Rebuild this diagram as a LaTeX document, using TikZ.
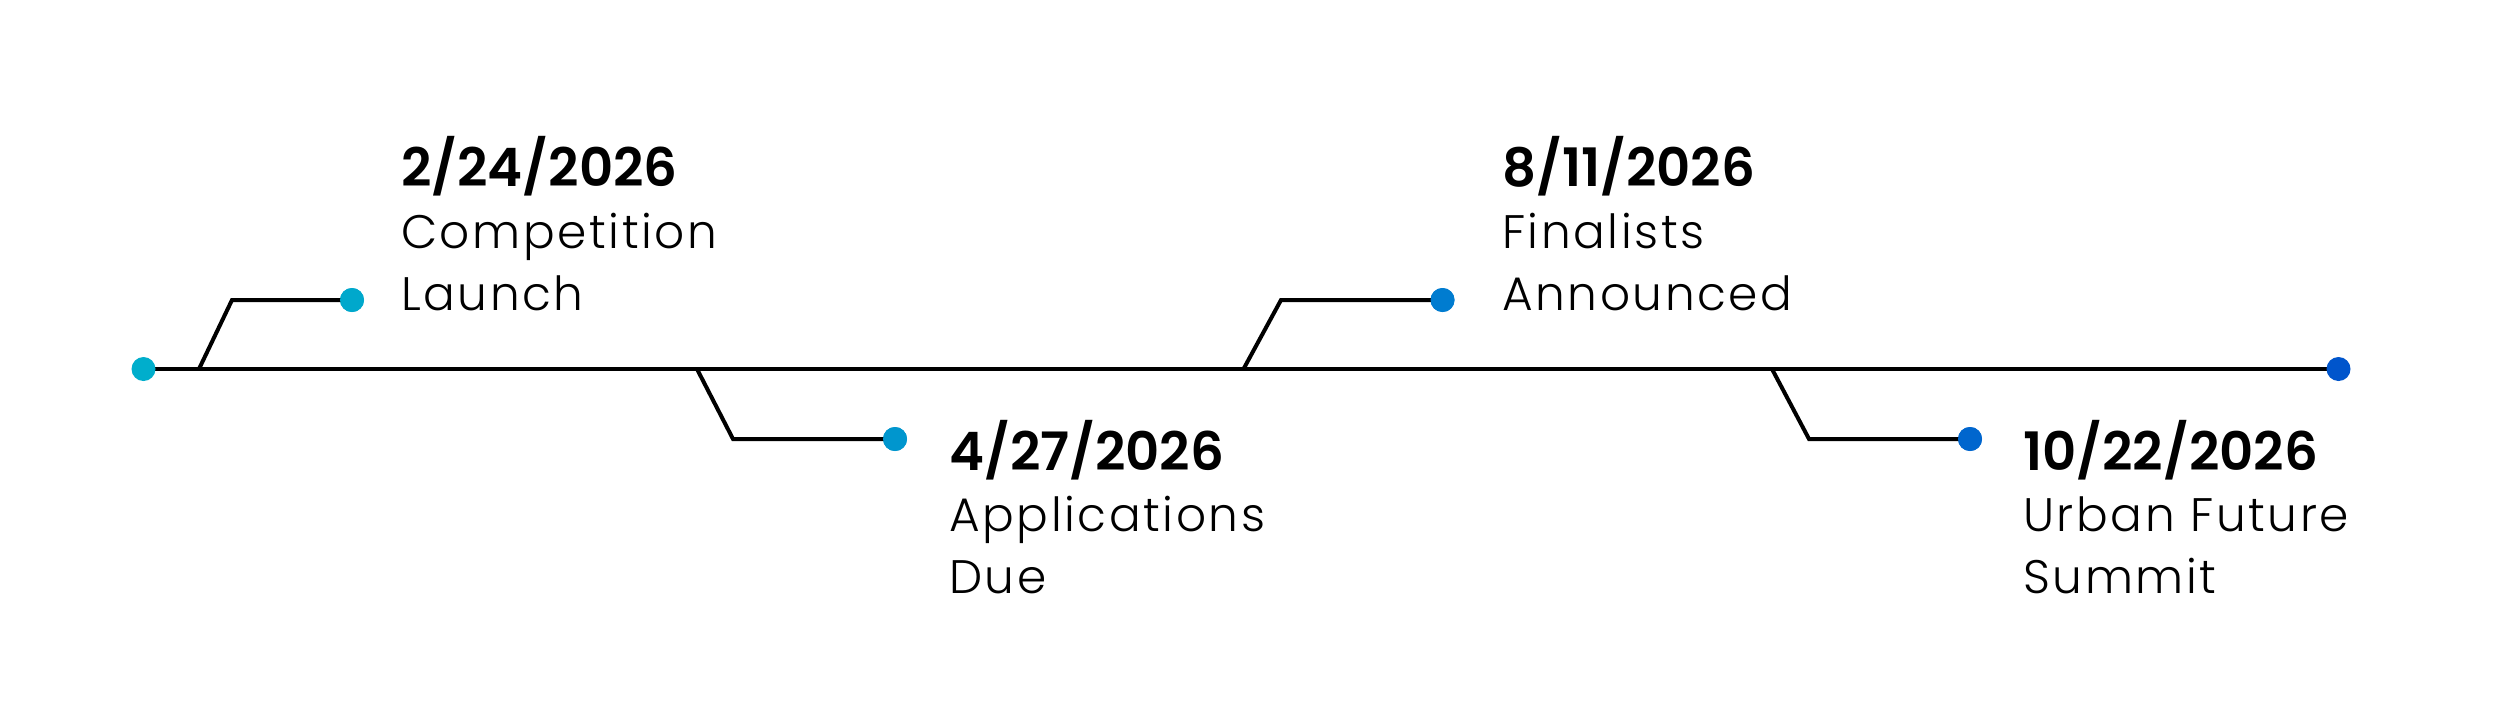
\documentclass[tikz,border=0pt]{standalone}
\usepackage{fontspec}
\newfontfamily\bodyfont{Poppins Light}[LetterSpace=5.5]
\newfontfamily\datefont{Poppins SemiBold}
\definecolor{c0}{RGB}{0,174,204}
\definecolor{c1}{RGB}{0,168,204}
\definecolor{c2}{RGB}{0,150,206}
\definecolor{c3}{RGB}{0,124,208}
\definecolor{c4}{RGB}{0,102,206}
\definecolor{c5}{RGB}{0,85,204}
\begin{document}
\begin{tikzpicture}[x=1pt,y=-1pt,
  dot/.style={circle,inner sep=0pt,minimum size=24pt,draw=none},
  conn/.style={line width=4pt,black,line join=miter},
  datetxt/.style={anchor=base west,inner sep=0pt,font=\datefont\fontsize{53}{60}\selectfont},
  bodytxt/.style={anchor=base west,inner sep=0pt,font=\bodyfont\fontsize{47}{56}\selectfont}]
\useasboundingbox (0,0) rectangle (2500,721);
\fill[white] (0,0) rectangle (2500,721);
% main line
\coordinate (s) at (143.5,369);
\coordinate (e) at (2338.5,369);
\draw[conn] (s) -- (e);
\node[dot,fill=c0] (p0) at (s) {};
\node[dot,fill=c5] (p5) at (e) {};
% branch points
\coordinate (b1) at (199,369);
\coordinate (k1) at (232,300);
\coordinate (b2) at (697,369);
\coordinate (k2) at (733,439);
\coordinate (b3) at (1243.5,369);
\coordinate (k3) at (1281,300);
\coordinate (b4) at (1772,369);
\coordinate (k4) at (1809,439);
\node[dot,fill=c1] (p1) at (352,300) {};
\node[dot,fill=c2] (p2) at (895,439) {};
\node[dot,fill=c3] (p3) at (1442.5,300) {};
\node[dot,fill=c4] (p4) at (1970,439) {};
\draw[conn] (b1) -- (k1) -- (p1.center);
\draw[conn] (b2) -- (k2) -- (p2.center);
\draw[conn] (b3) -- (k3) -- (p3.center);
\draw[conn] (b4) -- (k4) -- (p4.center);
\node[dot,fill=c1] at (p1) {};
\node[dot,fill=c2] at (p2) {};
\node[dot,fill=c3] at (p3) {};
\node[dot,fill=c4] at (p4) {};
% texts
\node[datetxt] (d1) at (401,186.7) {2/24/2026};
\node[bodytxt] (t1a) at (401,248) {Competition};
\node[bodytxt] (t1b) at (401,310.7) {Launch};
\node[datetxt] (d2) at (949,470.5) {4/27/2026};
\node[bodytxt] (t2a) at (949,531.5) {Applications};
\node[bodytxt] (t2b) at (949,593.5) {Due};
\node[datetxt] (d3) at (1502,186.7) {8/11/2026};
\node[bodytxt] (t3a) at (1502,248) {Finalists};
\node[bodytxt] (t3b) at (1502,310.7) {Announced};
\node[datetxt] (d4) at (2023,470.5) {10/22/2026};
\node[bodytxt] (t4a) at (2023,531.5) {Urban Future};
\node[bodytxt] (t4b) at (2023,593.5) {Summit};
\end{tikzpicture}
\end{document}
